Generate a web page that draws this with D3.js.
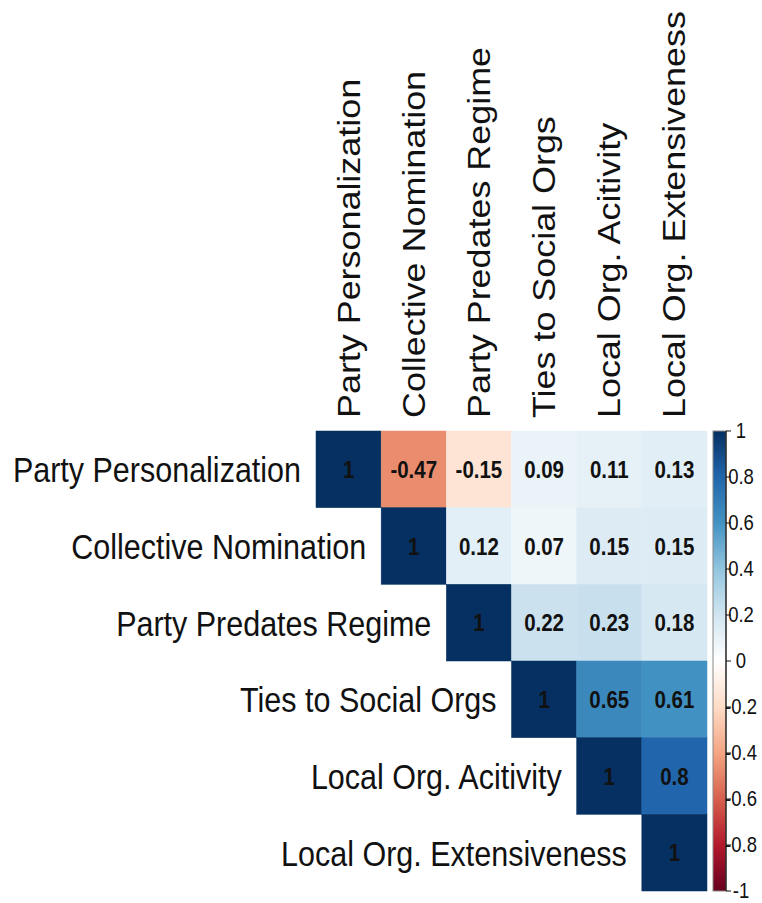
<!DOCTYPE html>
<html>
<head>
<meta charset="utf-8">
<script src="https://cdn.jsdelivr.net/npm/d3@7"></script>
<style>
  body { margin: 0; background: #fff; }
  text { font-family: "Liberation Sans", Arial, sans-serif; }
</style>
</head>
<body>
<svg id="chart"></svg>
<script>
const width = 762;
const height = 903;
const stretch = 1.177;   // the source image is taller than wide

const variables = [
    'Party Personalization',
    'Collective Nomination',
    'Party Predates Regime',
    'Ties to Social Orgs',
    'Local Org. Acitivity',
    'Local Org. Extensiveness'
];

// upper triangle, row by row (null = not drawn)
const corr = [
    [1, -0.47, -0.15, 0.09, 0.11, 0.13],
    [null, 1, 0.12, 0.07, 0.15, 0.15],
    [null, null, 1, 0.22, 0.23, 0.18],
    [null, null, null, 1, 0.65, 0.61],
    [null, null, null, null, 1, 0.8],
    [null, null, null, null, null, 1]
];

const legendTicks = [1, 0.8, 0.6, 0.4, 0.2, 0, -0.2, -0.4, -0.6, -0.8, -1];
const palette = ['#67001F', '#B2182B', '#D6604D', '#F4A582', '#FDDBC7', '#FFFFFF',
                 '#D1E5F0', '#92C5DE', '#4393C3', '#2166AC', '#053061'];

const svg = d3.select('#chart')
    .attr('width', width)
    .attr('height', height);

const x = d3.scaleBand().domain(d3.range(6)).range([316, 707]);
const y = d3.scaleBand().domain(d3.range(6)).range([431, 891]);
const color = d3.scaleLinear()
    .domain(d3.range(-1, 1.0001, 0.2))
    .range(palette);

const cells = [];
corr.forEach((row, i) => row.forEach((v, j) => {
    if (v !== null) cells.push({ i, j, v });
}));

svg.selectAll('rect.cell')
    .data(cells)
    .enter().append('rect')
    .attr('class', 'cell')
    .attr('x', d => x(d.j))
    .attr('y', d => y(d.i))
    .attr('width', x.bandwidth())
    .attr('height', y.bandwidth())
    .attr('fill', d => color(d.v))
    .attr('stroke', d => color(d.v))
    .attr('stroke-width', 0.5);

svg.selectAll('text.val')
    .data(cells)
    .enter().append('text')
    .attr('class', 'val')
    .attr('transform', d => `translate(${x(d.j) + x.bandwidth() / 2}, ${y(d.i) + y.bandwidth() / 2}) scale(1, ${stretch})`)
    .attr('text-anchor', 'middle')
    .attr('dy', '0.36em')
    .attr('font-size', 20.5)
    .attr('font-weight', 'bold')
    .attr('fill', '#111')
    .text(d => d.v);

// column labels
svg.selectAll('text.col')
    .data(variables)
    .enter().append('text')
    .attr('class', 'col')
    .attr('transform', (d, j) => `translate(${x(j) + x.bandwidth() / 2}, 418) scale(1, ${stretch}) rotate(-90)`)
    .attr('dy', '0.36em')
    .attr('font-size', 30.5)
    .attr('fill', '#111')
    .text(d => d);

// row labels
svg.selectAll('text.row')
    .data(variables)
    .enter().append('text')
    .attr('class', 'row')
    .attr('transform', (d, i) => `translate(${x(i) - 15}, ${y(i) + y.bandwidth() / 2}) scale(1, ${stretch})`)
    .attr('text-anchor', 'end')
    .attr('dy', '0.36em')
    .attr('font-size', 30.5)
    .attr('fill', '#111')
    .text(d => d);

// colour legend
const legendY = d3.scaleLinear().domain([-1, 1]).range([891, 431]);
const grad = svg.append('defs').append('linearGradient')
    .attr('id', 'grad')
    .attr('x1', 0).attr('y1', 1).attr('x2', 0).attr('y2', 0);
palette.forEach((c, k) => {
    grad.append('stop').attr('offset', k / (palette.length - 1)).attr('stop-color', c);
});

svg.append('rect')
    .attr('x', 713)
    .attr('y', legendY(1))
    .attr('width', 13)
    .attr('height', legendY(-1) - legendY(1))
    .attr('fill', 'url(#grad)')
    .attr('stroke', '#888')
    .attr('stroke-width', 1);

svg.append('line')
    .attr('x1', 726).attr('x2', 726)
    .attr('y1', legendY(1)).attr('y2', legendY(-1))
    .attr('stroke', '#111')
    .attr('stroke-width', 1.2);

const legend = svg.append('g');
legend.selectAll('line')
    .data(legendTicks)
    .enter().append('line')
    .attr('x1', 726).attr('x2', 731)
    .attr('y1', d => legendY(d)).attr('y2', d => legendY(d))
    .attr('stroke', '#111');

legend.selectAll('text')
    .data(legendTicks)
    .enter().append('text')
    .attr('transform', d => `translate(741, ${legendY(d)}) scale(1, ${stretch})`)
    .attr('text-anchor', 'middle')
    .attr('dy', '0.34em')
    .attr('font-size', 18.5)
    .attr('fill', '#111')
    .text(d => d);
</script>
</body>
</html>
